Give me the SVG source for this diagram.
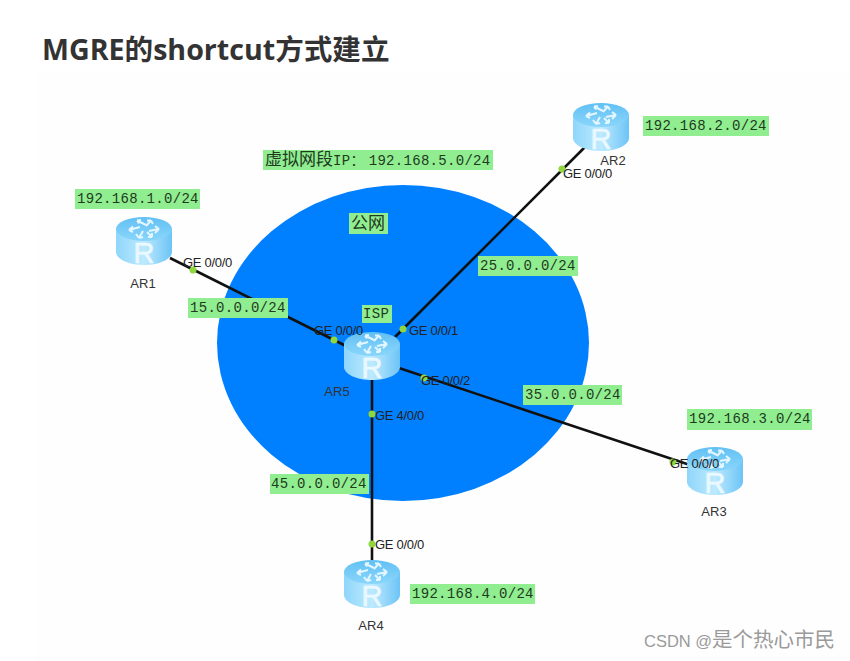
<svg xmlns="http://www.w3.org/2000/svg" width="850" height="661" viewBox="0 0 850 661">
  <style>
    text { font-family: "Liberation Sans", "Noto Sans CJK SC", sans-serif; }
    .title { font-family: "Open Sans", "Noto Sans CJK SC", sans-serif; font-size: 28.600px; font-weight: 700; fill: #333; }
    .port { font-size: 13px; fill: #222; letter-spacing: -0.3px; }
    .name { font-size: 13px; fill: #333; }
    .net { font-family: "Liberation Mono", "Noto Sans CJK SC", monospace; font-size: 14px; fill: #1f3a1f; letter-spacing: 0.3px; }
    .cjk { font-size: 17px; letter-spacing: 0; }
    .tag { fill: #90ee90; }
    .link { stroke: #111; stroke-width: 2.600; fill: none; }
    .dot { fill: #8fd63f; }
    .wm { font-size: 16.500px; fill: #9a9a9a; }
    .wm tspan { font-size: 20.500px; }
  </style>
  <defs>
    <linearGradient id="side" x1="0" y1="0" x2="1" y2="0">
      <stop offset="0" stop-color="#8fd6fb"/>
      <stop offset="0.5" stop-color="#bdeafe"/>
      <stop offset="1" stop-color="#6cc4f6"/>
    </linearGradient>
    <linearGradient id="top" x1="0" y1="0" x2="0" y2="1">
      <stop offset="0" stop-color="#62c0f4"/>
      <stop offset="1" stop-color="#8ad6fb"/>
    </linearGradient>
    <symbol id="router" width="56" height="48" viewBox="0 0 56 48">
      <path d="M0 12V35C0 42 12.500 48 28 48S56 42 56 35V12Z" fill="url(#side)"/>
      <ellipse cx="28" cy="12" rx="28" ry="12" fill="url(#top)"/>
      <g stroke="#e4f6ff" stroke-width="2" fill="none">
        <path d="M21 3.500L30 8M21 3.500L25 3M21 3.500L23 6.500"/>
        <path d="M35 3.500L30 9M35 3.500L37 7M35 3.500L31 3.500"/>
        <path d="M13 13L24 10M13 13L17 9.500M13 13L17 15"/>
        <path d="M43 12L33 14M43 12L39 9M43 12L39 16"/>
        <path d="M23 21L27 14M23 21L20 17M23 21L27 20"/>
        <path d="M36 20L31 15M36 20L36 16M36 20L32 20"/>
      </g>
      <text x="28" y="46" text-anchor="middle" font-size="29" fill="#eaf8ff" stroke="#eaf8ff" stroke-width="0.700">R</text>
    </symbol>
  </defs>

  <rect width="850" height="661" fill="#ffffff"/>
  <rect x="35" y="72" width="815" height="589" fill="#fefefe"/>
  <text class="title" x="42" y="60">MGRE的shortcut方式建立</text>

  <g id="public-network">
    <ellipse cx="403" cy="343" rx="186" ry="158" fill="#0080ff"/>
  </g>

  <g id="connectors">
    <line class="link" x1="170" y1="258" x2="346" y2="346"/>
    <line class="link" x1="585" y1="147" x2="395" y2="337"/>
    <line class="link" x1="399" y1="368" x2="690" y2="465"/>
    <line class="link" x1="372" y1="380" x2="372" y2="562"/>
  </g>

  <g id="AR1">
    <use href="#router" x="116" y="217"/>
    <text class="name" x="143" y="288" text-anchor="middle">AR1</text>
  </g>
  <g id="AR2">
    <use href="#router" x="573" y="103"/>
    <text class="name" x="613" y="165" text-anchor="middle">AR2</text>
  </g>
  <g id="AR3">
    <use href="#router" x="687" y="447"/>
    <text class="name" x="714" y="516" text-anchor="middle">AR3</text>
  </g>
  <g id="AR4">
    <use href="#router" x="344" y="560"/>
    <text class="name" x="371" y="630" text-anchor="middle">AR4</text>
  </g>
  <g id="AR5">
    <use href="#router" x="344" y="332"/>
    <text class="name" x="337" y="396" text-anchor="middle">AR5</text>
  </g>

  <g id="ports">
    <circle class="dot" cx="193" cy="270" r="3.500"/>
    <circle class="dot" cx="334" cy="340" r="3.500"/>
    <circle class="dot" cx="403" cy="329" r="3.500"/>
    <circle class="dot" cx="562" cy="169" r="3.500"/>
    <circle class="dot" cx="424" cy="378" r="3.500"/>
    <circle class="dot" cx="673" cy="462" r="3.500"/>
    <circle class="dot" cx="372" cy="414" r="3.500"/>
    <circle class="dot" cx="372" cy="544" r="3.500"/>
    <text class="port" x="183" y="267">GE 0/0/0</text>
    <text class="port" x="314" y="335">GE 0/0/0</text>
    <text class="port" x="409" y="335">GE 0/0/1</text>
    <text class="port" x="563" y="178">GE 0/0/0</text>
    <text class="port" x="421" y="385">GE 0/0/2</text>
    <text class="port" x="670" y="468">GE 0/0/0</text>
    <text class="port" x="375" y="420">GE 4/0/0</text>
    <text class="port" x="375" y="549">GE 0/0/0</text>
  </g>

  <g id="label-lan1"><rect class="tag" x="75" y="189" width="125" height="20"/><text class="net" x="77" y="203">192.168.1.0/24</text></g>
  <g id="label-lan2"><rect class="tag" x="643" y="116" width="126" height="20"/><text class="net" x="645" y="130">192.168.2.0/24</text></g>
  <g id="label-lan3"><rect class="tag" x="687" y="409" width="125" height="21"/><text class="net" x="689" y="423">192.168.3.0/24</text></g>
  <g id="label-lan4"><rect class="tag" x="410" y="584" width="125" height="20"/><text class="net" x="412" y="598">192.168.4.0/24</text></g>
  <g id="label-virtual"><rect class="tag" x="263" y="150" width="230" height="20"/><text class="net" x="265" y="165"><tspan class="cjk">虚拟网段</tspan>IP：<tspan dx="4">192.168.5.0/24</tspan></text></g>
  <g id="label-public"><rect class="tag" x="349" y="213" width="39" height="21"/><text class="net cjk" x="351" y="229">公网</text></g>
  <g id="label-isp"><rect class="tag" x="362" y="305" width="30" height="18"/><text class="net" x="363" y="318">ISP</text></g>
  <g id="label-15"><rect class="tag" x="188" y="298" width="100" height="20"/><text class="net" x="190" y="312">15.0.0.0/24</text></g>
  <g id="label-25"><rect class="tag" x="478" y="256" width="100" height="20"/><text class="net" x="480" y="270">25.0.0.0/24</text></g>
  <g id="label-35"><rect class="tag" x="523" y="385" width="99" height="20"/><text class="net" x="525" y="399">35.0.0.0/24</text></g>
  <g id="label-45"><rect class="tag" x="270" y="474" width="99" height="20"/><text class="net" x="271" y="488">45.0.0.0/24</text></g>

  <text class="wm" x="644" y="647">CSDN @<tspan>是个热心市民</tspan></text>
</svg>
